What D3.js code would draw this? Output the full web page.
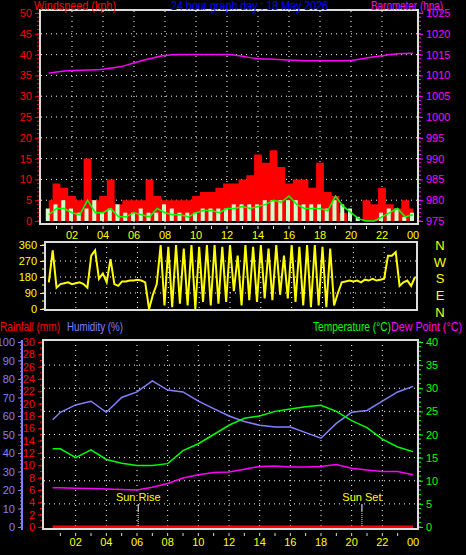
<!DOCTYPE html>
<html><head><meta charset="utf-8">
<script src="https://cdn.jsdelivr.net/npm/d3@7"></script>
<style>
body{margin:0;background:#000;}
svg text{font-family:"Liberation Sans",Arial,sans-serif;font-size:11px;}
</style></head><body>
<svg id="c" width="466" height="555"></svg>
<script>
// half-hour wind samples, 00:30 .. 24:00
const windTimes = d3.range(48).map(i => 0.5 + i * 0.5);
const gust = [5,9,8,6,5,15,5,6,10,4,5,5,5,10,6,5,5,5,5,6,7,7,8,9,9,10,11,16,14,17,13,9,10,10,8,14,7,6,2,0,0,5,4,8,4,3,5,3];
const speed = [3,4,5,3,2,3,5,2,3,4,2,2,3,2,2,4,3,2,2,2,3,3,3,3,4,4,4,4,5,5,5,5,5,4,4,4,3,5,4,3,1,0,0,2,3,3,1,2];
const avgWind = [1.5,3,3,2,1.5,5,2,2,3,1,1,2,1.5,1,3,2,1.5,1.5,1,2,2.5,2.5,2,3,3,3.5,3,3.5,4,5,4.5,6,4,3,3,3,2.5,6,3.5,2,0.5,0,0,1,2,3,1,1.5];
// hourly series
const hours = [0.5,1,2,3,4,5,6,7,8,9,10,11,12,13,14,15,16,17,18,19,20,21,22,23,24];
const barometer = [1010.5,1010.8,1011.2,1011.3,1011.5,1012,1013,1014,1014.8,1015,1015,1015,1015,1014.6,1014,1013.9,1013.7,1013.5,1013.5,1013.5,1013.6,1014.2,1014.7,1015.2,1015.3];
const humidity = [58,62,66,68,62,70,73,79,74,73,68,64,60,57,55,54,54,51,48,56,62,63,68,73,76];
const temperature = [16.9,16.9,15,16.7,14.6,13.8,13.3,13.3,13.7,16.5,18,20,22,23.5,24,25,25.5,26,26.3,25,23,21.5,19,17.3,16.3];
const dewPoint = [8.5,8.5,8.4,8.3,8.2,8.1,8,8.6,9.4,10.6,11.3,11.8,11.9,12.5,13.1,13.2,13,13,13.1,13.5,12.7,12.3,12,12,11.3];
const rainfall = hours.map(() => 0);
// wind direction, 15-minute samples 00:15 .. 24:00
const direction = [150,330,120,140,145,150,140,145,150,140,120,300,330,170,200,150,280,140,130,155,155,160,160,165,160,150,0,80,140,360,20,350,10,360,30,340,20,360,0,350,40,360,20,360,30,350,40,360,100,300,20,360,50,350,40,360,60,340,50,360,80,300,60,360,40,350,20,360,10,360,20,350,10,340,20,90,150,155,160,155,160,150,165,160,170,160,165,170,300,300,320,130,150,160,130,180];
const dirTimes = direction.map((d, i) => 0.25 * (i + 1));
const hourTicks = [2,4,6,8,10,12,14,16,18,20,22,24];
const sunRise = 6.08, sunSet = 20.67;
const fmtH = h => d3.format('02')(h % 24);

const svg = d3.select('#c');
const x1 = d3.scaleLinear().domain([0, 24]).range([41, 413]);
const x3 = d3.scaleLinear().domain([0, 24]).range([45, 413]);

function grid(g, x, y, vals, y0, y1, xl, xr) {
  g.selectAll('.vg').data(hourTicks.slice(0, -1)).join('line')
    .attr('x1', d => x(d)).attr('x2', d => x(d)).attr('y1', y0).attr('y2', y1);
  g.selectAll('.hg').data(vals).join('line').attr('class','hg')
    .attr('x1', xl).attr('x2', xr).attr('y1', d => y(d)).attr('y2', d => y(d));
  g.selectAll('line').attr('stroke', '#fff').attr('stroke-dasharray', '1,4');
}
function frame(x0, y0, x1_, y1_) {
  svg.append('rect').attr('x', x0).attr('y', y0).attr('width', x1_ - x0).attr('height', y1_ - y0)
    .attr('fill', 'none').attr('stroke', '#ddd').attr('stroke-width', 2);
}
function axis(scale, side, xpos, color, ticks, minor) {
  const a = (side === 'left' ? d3.axisLeft(scale) : d3.axisRight(scale))
    .tickValues(ticks).tickSize(4).tickFormat(d => d);
  const g = svg.append('g').attr('transform', `translate(${xpos},0)`).call(a);
  g.select('.domain').remove();
  if (minor) {
    g.selectAll('.mn').data(minor).join('line')
      .attr('x1', 0).attr('x2', side === 'left' ? -2 : 2)
      .attr('y1', d => scale(d)).attr('y2', d => scale(d));
  }
  g.selectAll('line').attr('stroke', color);
  g.selectAll('text').attr('fill', color).style('font-size', '11px');
  return g;
}
function label(x, y, w, color, txt) {
  svg.append('text').attr('x', x).attr('y', y).attr('fill', color).style('font-size', '12px')
    .attr('textLength', w).attr('lengthAdjust', 'spacingAndGlyphs').text(txt);
}
function hourAxis(x, y) {
  svg.append('g').selectAll('text').data(hourTicks).join('text')
    .attr('x', d => x(d)).attr('y', y).attr('text-anchor', 'middle')
    .attr('fill', '#ff0').text(fmtH);
  svg.append('g').selectAll('line').data(d3.range(1, 24)).join('line')
    .attr('x1', d => x(d)).attr('x2', d => x(d)).attr('y1', y - 13).attr('y2', y - 10)
    .attr('stroke', '#ddd');
}

// ---------- top panel: wind + barometer
const yW = d3.scaleLinear().domain([0, 50]).range([221, 13]);
const yB = d3.scaleLinear().domain([975, 1025]).range([221, 13]);
grid(svg.append('g'), x1, yW, d3.range(5, 50, 5), 11, 223, 41, 417);
svg.append('path').datum(gust)
  .attr('d', d3.area().curve(d3.curveStep).x((d, i) => x1(windTimes[i])).y0(yW(0)).y1(d => yW(d)))
  .attr('fill', '#f00');
svg.append('g').selectAll('rect').data(speed).join('rect')
  .attr('x', (d, i) => x1(windTimes[i]) - 3).attr('width', 4)
  .attr('y', d => yW(d)).attr('height', d => yW(0) - yW(d)).attr('fill', '#ccffcc');
svg.append('path').datum(avgWind)
  .attr('d', d3.line().x((d, i) => x1(windTimes[i])).y(d => yW(d)))
  .attr('fill', 'none').attr('stroke', '#0f0').attr('stroke-width', 1.5);
svg.append('path').datum(barometer)
  .attr('d', d3.line().curve(d3.curveMonotoneX).x((d, i) => x1(hours[i])).y(d => yB(d)))
  .attr('fill', 'none').attr('stroke', '#f0f').attr('stroke-width', 1.5);
frame(40, 10, 418, 224);
axis(yW, 'left', 39, '#f00', d3.range(0, 51, 5), d3.range(0, 51, 1));
axis(yB, 'right', 419, '#f0f', d3.range(975, 1026, 5), d3.range(975, 1026, 1));
label(34, 10, 82, '#f00', 'Windspeed (kph)');
label(171, 10, 157, '#00f', '24 hour graph day : 18 May 2026');
label(371, 10, 72, '#f0f', 'Barometer (hpa)');
hourAxis(x1, 239);

// ---------- middle panel: wind direction
const yD = d3.scaleLinear().domain([0, 360]).range([309, 245]);
const xD = d3.scaleLinear().domain([0, 24]).range([45, 415]);
grid(svg.append('g'), xD, yD, [90, 180, 270], 242, 310, 45, 417);
svg.append('path').datum(direction)
  .attr('d', d3.line().x((d, i) => xD(dirTimes[i])).y(d => yD(d)))
  .attr('fill', 'none').attr('stroke', '#ff0').attr('stroke-width', 2);
frame(45, 242, 417, 310);
axis(yD, 'left', 44, '#ff0', [0, 90, 180, 270, 360], d3.range(0, 361, 45));
svg.append('g').selectAll('text').data(['N', 'W', 'S', 'E', 'N']).join('text')
  .attr('x', 440).attr('y', (d, i) => 250 + i * 16.7).attr('text-anchor', 'middle')
  .attr('fill', '#ff0').style('font-size', '13px').text(d => d);

// ---------- bottom panel: temperature, humidity, rainfall
const yH = d3.scaleLinear().domain([0, 100]).range([527, 342]);
const yR = d3.scaleLinear().domain([0, 30]).range([527, 342]);
const yT = d3.scaleLinear().domain([0, 40]).range([527, 342]);
grid(svg.append('g'), x3, yT, d3.range(5, 40, 5), 340, 529, 44, 417);
const ln = (y, vals, color) => svg.append('path').datum(vals)
  .attr('d', d3.line().x((d, i) => x3(hours[i])).y(d => y(d)))
  .attr('fill', 'none').attr('stroke', color).attr('stroke-width', 1.5);
ln(yH, humidity, '#8080ff');
ln(yT, temperature, '#0f0');
ln(yT, dewPoint, '#f0f');
ln(yR, rainfall, '#f00').attr('stroke-width', 3);
[[sunRise, 'Sun Rise'], [sunSet, 'Sun Set']].forEach(([t, lbl]) => {
  svg.append('line').attr('x1', x3(t)).attr('x2', x3(t)).attr('y1', 504).attr('y2', 511).attr('stroke', '#fff');
  svg.append('line').attr('x1', x3(t)).attr('x2', x3(t)).attr('y1', 511).attr('y2', 526)
    .attr('stroke', '#ff0').attr('stroke-dasharray', '1,1');
  svg.append('text').attr('x', x3(t)).attr('y', 501).attr('text-anchor', 'middle').attr('fill', '#ff0').text(lbl);
});
frame(43, 340, 418, 529);
svg.append('line').attr('x1', 22).attr('x2', 22).attr('y1', 340).attr('y2', 530).attr('stroke', '#8080ff').attr('stroke-width', 2);
axis(yH, 'left', 22, '#8080ff', d3.range(0, 101, 10), d3.range(0, 101, 2));
axis(yR, 'left', 42, '#f00', d3.range(0, 31, 2), d3.range(0, 31, 1));
axis(yT, 'right', 419, '#0f0', d3.range(0, 41, 5), d3.range(0, 41, 1));
label(0, 331, 60, '#f00', 'Rainfall (mm)');
label(67, 331, 56, '#8080ff', 'Humidity (%)');
label(313, 331, 78, '#0f0', 'Temperature (°C)');
label(391, 331, 71, '#f0f', 'Dew Point (°C)');
hourAxis(x3, 546);
</script></body></html>
